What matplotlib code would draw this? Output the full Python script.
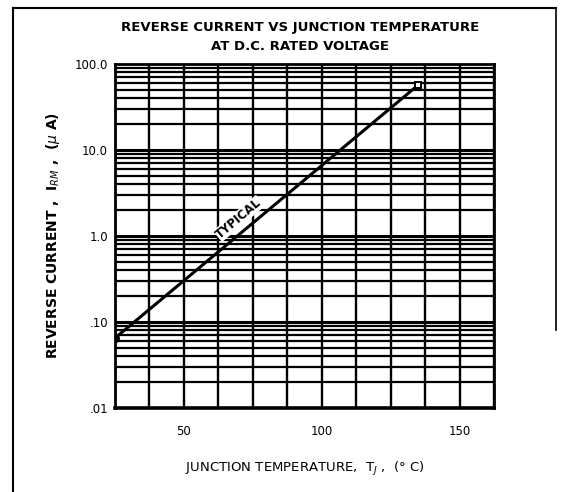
import numpy as np
import matplotlib.pyplot as plt
from matplotlib.lines import Line2D

# Data
temps = [25, 135]          # junction temperature, deg C
current = [0.065, 57]      # reverse current, uA

x_ticks = [50, 100, 150]
x_ticklabels = ['50', '100', '150']
y_ticks = [0.01, 0.1, 1, 10, 100]
y_ticklabels = ['.01', '.10', '1.0', '10.0', '100.0']

fig = plt.figure(figsize=(5.71, 4.92), dpi=100)
ax = fig.add_axes([115 / 571, 1 - 408 / 492, 379 / 571, 344 / 492])

ax.set_yscale('log')
ax.set_xlim(25, 162.5)
ax.set_ylim(0.01, 100)

# grid: vertical every 12.5 deg, horizontal at 1..9 per decade
for gx in np.arange(25, 162.6, 12.5):
    ax.axvline(gx, color='black', lw=1.7, zorder=1)
for dec in [0.01, 0.1, 1, 10]:
    for m in range(1, 10):
        ax.axhline(dec * m, color='black', lw=2.2 if m == 1 else 1.6, zorder=1)

# curve
ax.plot(temps, current, color='black', lw=2.2, zorder=3)
ax.plot(temps[0], current[0], 'o', color='black', ms=5.5, zorder=4)
ax.plot(temps[-1], current[-1], 's', mfc='white', mec='black', mew=1.4, ms=5, zorder=4)

ax.text(70, 1.6, 'TYPICAL', rotation=40, ha='center', va='center',
        fontsize=8.5, fontweight='bold', zorder=2,
        bbox=dict(facecolor='white', edgecolor='none', pad=0.5))

ax.set_xticks(x_ticks)
ax.set_xticklabels(x_ticklabels)
ax.set_yticks(y_ticks)
ax.set_yticklabels(y_ticklabels)
ax.minorticks_off()
ax.tick_params(length=0, labelsize=8.5, pad=5)
ax.tick_params(axis='x', pad=12)

for s in ax.spines.values():
    s.set_linewidth(2.0)
ax.spines['bottom'].set_linewidth(2.6)

ax.set_xlabel('JUNCTION TEMPERATURE,  T$_J$ ,  (° C)', fontsize=9.5, labelpad=16)
ax.set_ylabel('REVERSE CURRENT ,  I$_{RM}$ ,  ($\\mu$ A)', fontsize=10,
              fontweight='bold', labelpad=9)

fig.text(0.525, 1 - 28 / 492, 'REVERSE CURRENT VS JUNCTION TEMPERATURE',
         ha='center', va='center', fontsize=9.5, fontweight='bold')
fig.text(0.525, 1 - 47 / 492, 'AT D.C. RATED VOLTAGE',
         ha='center', va='center', fontsize=9.5, fontweight='bold')

# outer frame of the scanned page
fig.add_artist(Line2D([13 / 571, 13 / 571], [0, 1 - 8 / 492], color='black', lw=1.5))
fig.add_artist(Line2D([13 / 571, 556 / 571], [1 - 8 / 492, 1 - 8 / 492], color='black', lw=1.5))
fig.add_artist(Line2D([556 / 571, 556 / 571], [1 - 8 / 492, 1 - 330 / 492], color='black', lw=1.2))

fig.savefig('out.png', dpi=100)
